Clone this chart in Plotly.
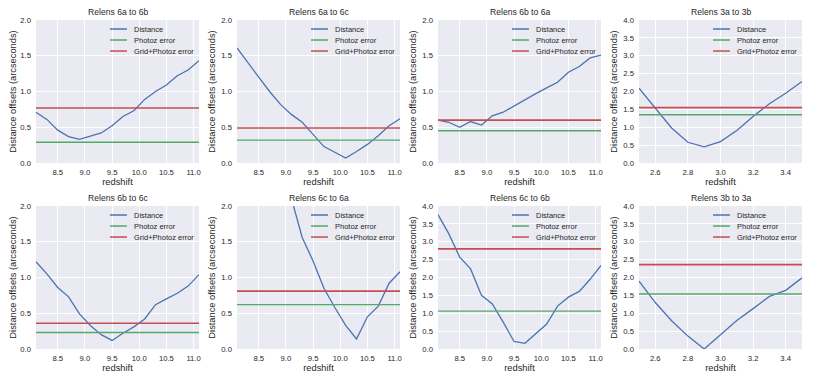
import plotly.graph_objects as go

### data ###
z_6 = [8.1, 8.3, 8.5, 8.7, 8.9, 9.1, 9.3, 9.5, 9.7, 9.9, 10.1, 10.3, 10.5, 10.7, 10.9, 11.1]
z_3 = [2.5, 2.6, 2.7, 2.8, 2.9, 3.0, 3.1, 3.2, 3.3, 3.4, 3.5]

titles = ["Relens 6a to 6b", "Relens 6a to 6c", "Relens 6b to 6a", "Relens 3a to 3b",
          "Relens 6b to 6c", "Relens 6c to 6a", "Relens 6c to 6b", "Relens 3b to 3a"]

dist_6a_6b = [0.71, 0.61, 0.46, 0.37, 0.33, 0.38, 0.42, 0.52, 0.65, 0.73, 0.89, 1.00, 1.09, 1.22, 1.30, 1.43]
dist_6a_6c = [1.61, 1.40, 1.20, 1.00, 0.82, 0.68, 0.57, 0.40, 0.23, 0.15, 0.07, 0.16, 0.26, 0.38, 0.52, 0.62]
dist_6b_6a = [0.60, 0.57, 0.50, 0.58, 0.53, 0.66, 0.71, 0.80, 0.88, 0.97, 1.05, 1.13, 1.27, 1.35, 1.47, 1.51]
dist_3a_3b = [2.09, 1.55, 0.98, 0.58, 0.45, 0.60, 0.91, 1.30, 1.66, 1.95, 2.28]
dist_6b_6c = [1.22, 1.05, 0.86, 0.73, 0.49, 0.33, 0.20, 0.12, 0.22, 0.31, 0.42, 0.62, 0.70, 0.78, 0.88, 1.04]
dist_6c_6a = [4.70, 4.20, 3.70, 3.20, 2.70, 2.11, 1.56, 1.23, 0.85, 0.58, 0.33, 0.14, 0.45, 0.60, 0.92, 1.08]
dist_6c_6b = [3.76, 3.22, 2.57, 2.24, 1.50, 1.26, 0.75, 0.21, 0.16, 0.42, 0.70, 1.20, 1.45, 1.61, 1.95, 2.34]
dist_3b_3a = [1.90, 1.30, 0.79, 0.36, 0.00, 0.40, 0.80, 1.13, 1.47, 1.64, 1.99]

photoz_err = [0.29, 0.32, 0.45, 1.35, 0.23, 0.62, 1.06, 1.54]
grid_err = [0.77, 0.49, 0.60, 1.55, 0.36, 0.81, 2.80, 2.36]

distances = [dist_6a_6b, dist_6a_6c, dist_6b_6a, dist_3a_3b,
             dist_6b_6c, dist_6c_6a, dist_6c_6b, dist_3b_3a]
redshifts = [z_6, z_6, z_6, z_3, z_6, z_6, z_6, z_3]
y_tops = [2.0, 2.0, 2.0, 4.0, 2.0, 2.0, 4.0, 4.0]

legend_names = ["Distance", "Photoz error", "Grid+Photoz error"]
colors = ["#4C72B0", "#55A868", "#C44E52"]

### layout in pixels (matplotlib-ish grid) ###
W, H = 817, 382
pad = 8  # the html body margin shifts the figure div by 8px
col_left = [36 - pad, 237 - pad, 438 - pad, 639 - pad]
col_w = 163
row_top = [20 - pad, 206 - pad]
row_h = 143

font = "Liberation Sans, Arial, sans-serif"
txt = "#262626"

fig = go.Figure()
shapes = []
annotations = []

for i in range(8):
    r, c = divmod(i, 4)
    n = i + 1
    xa = "x" if n == 1 else f"x{n}"
    ya = "y" if n == 1 else f"y{n}"
    z = redshifts[i]
    lo, hi = z[0], z[-1]

    fig.add_trace(go.Scatter(x=z, y=distances[i], mode="lines", xaxis=xa, yaxis=ya,
                             line=dict(color=colors[0], width=1.3), showlegend=False))
    fig.add_trace(go.Scatter(x=[lo, hi], y=[photoz_err[i]] * 2, mode="lines", xaxis=xa, yaxis=ya,
                             line=dict(color=colors[1], width=1.4), showlegend=False))
    fig.add_trace(go.Scatter(x=[lo, hi], y=[grid_err[i]] * 2, mode="lines", xaxis=xa, yaxis=ya,
                             line=dict(color=colors[2], width=1.6), showlegend=False))

    x0 = col_left[c] / W
    x1 = (col_left[c] + col_w) / W
    y1 = 1 - row_top[r] / H
    y0 = 1 - (row_top[r] + row_h) / H

    if lo > 5:
        xticks = dict(tick0=8.5, dtick=0.5)
    else:
        xticks = dict(tick0=2.6, dtick=0.2)

    fig.layout[xa.replace("x", "xaxis")] = dict(
        domain=[x0, x1], anchor=ya, range=[lo, hi], **xticks, tickformat=".1f",
        automargin=False,
        showgrid=True, gridcolor="white", gridwidth=1, zeroline=False, ticks="",
        ticklabelstandoff=3, tickfont=dict(size=7.7, color=txt),
        title=dict(text="redshift", font=dict(size=9.3, color=txt), standoff=2))
    fig.layout[ya.replace("y", "yaxis")] = dict(
        domain=[y0, y1], anchor=xa, range=[0, y_tops[i]], dtick=0.5, tickformat=".1f",
        automargin=False,
        showgrid=True, gridcolor="white", gridwidth=1, zeroline=False, ticks="",
        ticklabelstandoff=4, tickfont=dict(size=7.7, color=txt),
        title=dict(text="Distance offsets (arcseconds)", font=dict(size=9.3, color=txt), standoff=4))

    # panel title
    annotations.append(dict(text=titles[i], xref=f"{xa} domain", yref=f"{ya} domain",
                            x=0.5, y=1, xanchor="center", yanchor="bottom", yshift=1,
                            showarrow=False, font=dict(size=8.6, color=txt)))

    # hand-made legend, upper right inside the axes
    for k, name in enumerate(legend_names):
        ly = [0.937, 0.860, 0.783][k]
        shapes.append(dict(type="line", xref=f"{xa} domain", yref=f"{ya} domain",
                           x0=0.454, x1=0.558, y0=ly, y1=ly,
                           line=dict(color=colors[k], width=1.5)))
        annotations.append(dict(text=name, xref=f"{xa} domain", yref=f"{ya} domain",
                                x=0.589, y=ly, xanchor="left", yanchor="middle",
                                showarrow=False, font=dict(size=7.5, color=txt)))

fig.update_layout(width=W, height=H,
                  margin={"r": 0, "t": 0, "l": 0, "b": 0},
                  paper_bgcolor="white", plot_bgcolor="#EAEAF2",
                  font=dict(family=font, color=txt),
                  showlegend=False, shapes=shapes, annotations=annotations)

fig.write_html("out.html")
